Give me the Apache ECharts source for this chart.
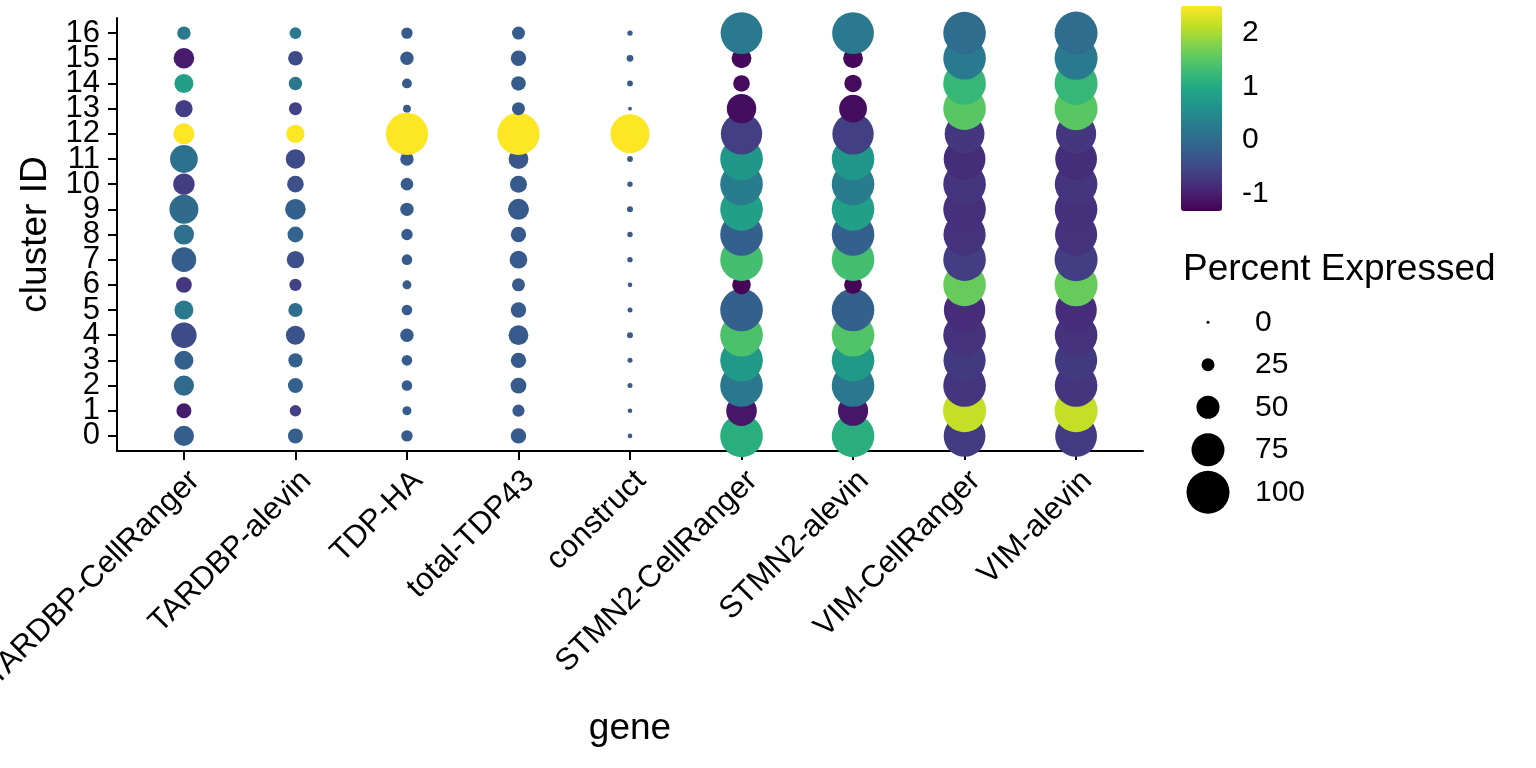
<!DOCTYPE html>
<html>
<head>
<meta charset="utf-8">
<script src="https://cdn.jsdelivr.net/npm/echarts@6/dist/echarts.min.js"></script>
<style>
html,body{margin:0;padding:0;background:#fff;}
#chart{width:1536px;height:768px;}
</style>
</head>
<body>
<div id="chart"></div>
<script>
// ---------- data ----------
const genes = ["TARDBP-CellRanger","TARDBP-alevin","TDP-HA","total-TDP43","construct",
               "STMN2-CellRanger","STMN2-alevin","VIM-CellRanger","VIM-alevin"];
const clusters = [0,1,2,3,4,5,6,7,8,9,10,11,12,13,14,15,16];

// percent expressed per cluster (0..16)
const pctTARDBPCellRanger = [43,30,43,40,56,40,32,54,43,65,46,62,45,36,40,44,26];
const pctTARDBPalevin     = [30,21,30,28,40,28,23,36,32,44,34,41,38,25,26,29,22];
const pctTDPHA            = [21,15,19,19,26,19,15,19,21,26,24,26,98,12,17,26,21];
const pctTotalTDP43       = [31,23,32,31,42,31,25,37,31,45,35,42,98,25,29,31,25];
const pctConstruct        = [4,4,5,5,7.5,5,4,6,6,7.5,6,7,90,2,7,9.5,6];
const pctSTMN2CellRanger  = [99,69,99,99,99,99,39,99,99,99,99,99,96,66,34,42,97];
const pctSTMN2alevin      = [99,68,99,99,99,99,37,99,99,99,99,99,96,62,36,42,97];
const pctVIMCellRanger    = [97,100,99,98,99,96,99,99,98,99,99,97,92,99,99,99,99];
const pctVIMalevin        = [97,100,99,98,99,96,100,100,98,99,99,97,93,100,100,100,100];

// scaled average expression per cluster (0..16)
const avgTARDBPCellRanger = [-0.2,-1.05,-0.02,-0.16,-0.46,0.22,-0.72,-0.2,0.08,0.0,-0.65,0.1,2.5,-0.65,0.83,-1.03,0.2];
const avgTARDBPalevin     = [-0.18,-0.6,-0.16,-0.16,-0.35,0.04,-0.58,-0.4,-0.1,-0.16,-0.4,-0.45,2.5,-0.58,0.2,-0.45,0.22];
const avgTDPHA            = [-0.24,-0.24,-0.24,-0.24,-0.24,-0.24,-0.24,-0.24,-0.24,-0.24,-0.24,-0.24,2.5,-0.24,-0.24,-0.24,-0.24];
const avgTotalTDP43       = [-0.25,-0.27,-0.25,-0.25,-0.27,-0.25,-0.27,-0.25,-0.25,-0.25,-0.25,-0.3,2.5,-0.26,-0.22,-0.25,-0.2];
const avgConstruct        = [-0.24,-0.24,-0.24,-0.24,-0.24,-0.24,-0.24,-0.24,-0.24,-0.24,-0.24,-0.24,2.5,-0.24,-0.24,-0.24,-0.24];
const avgSTMN2CellRanger  = [1.06,-1.1,0.18,0.71,1.4,-0.16,-1.28,1.36,-0.16,0.83,0.26,0.68,-0.62,-1.2,-1.22,-1.25,0.22];
const avgSTMN2alevin      = [1.06,-1.1,0.18,0.71,1.45,-0.16,-1.28,1.35,-0.16,0.83,0.26,0.66,-0.62,-1.2,-1.22,-1.25,0.22];
const avgVIMCellRanger    = [-0.67,2.16,-0.76,-0.7,-0.78,-0.85,1.6,-0.65,-0.78,-0.82,-0.76,-0.84,-0.73,1.5,1.21,0.24,0.03];
const avgVIMalevin        = [-0.67,2.16,-0.76,-0.7,-0.78,-0.85,1.6,-0.65,-0.78,-0.8,-0.76,-0.84,-0.73,1.5,1.21,0.24,0.03];

const colorTicks = [-1,0,1,2];
const sizeBreaks = [0,25,50,75,100];
const colorMin = -1.33, colorMax = 2.5;
const viridis = ["#440154","#482475","#414487","#355f8d","#2a788e","#21918c",
                 "#22a884","#44bf70","#7ad151","#bddf26","#fde725"];

// ---------- build ----------
const pctList = [pctTARDBPCellRanger,pctTARDBPalevin,pctTDPHA,pctTotalTDP43,pctConstruct,
                 pctSTMN2CellRanger,pctSTMN2alevin,pctVIMCellRanger,pctVIMalevin];
const avgList = [avgTARDBPCellRanger,avgTARDBPalevin,avgTDPHA,avgTotalTDP43,avgConstruct,
                 avgSTMN2CellRanger,avgSTMN2alevin,avgVIMCellRanger,avgVIMalevin];

const dots = [];
clusters.forEach((c, ci) => {
  genes.forEach((g, gi) => {
    dots.push([gi + 1, c, pctList[gi][ci], avgList[gi][ci]]);
  });
});

const FONT = "'Liberation Sans', Arial, Helvetica, sans-serif";
const TICK_FS = 31, TITLE_FS = 37;
const geneTicks = genes.map((g, i) => i + 1);
const evenClusters = clusters.filter(c => c % 2 === 0);
const oddClusters = clusters.filter(c => c % 2 === 1);

const yLabelStyle = {margin: 17, fontSize: TICK_FS, color: '#000', fontFamily: FONT,
                     showMinLabel: true, showMaxLabel: true, hideOverlap: false};

const chart = echarts.init(document.getElementById('chart'), null, {renderer: 'canvas'});
chart.setOption({
  backgroundColor: '#ffffff',
  animation: false,
  textStyle: {fontFamily: FONT, color: '#000'},
  grid: [
    {left: 117, top: 18, width: 1026, height: 433, outerBoundsMode: 'none', containLabel: false},
    {left: 1181, top: 6, width: 41, height: 205, outerBoundsMode: 'none', containLabel: false},
    {left: 1186, top: 301, width: 44, height: 212.5, outerBoundsMode: 'none', containLabel: false}
  ],
  xAxis: [
    {
      type: 'value', gridIndex: 0, min: 0.4, max: 9.6,
      axisLine: {show: true, onZero: false, lineStyle: {color: '#000', width: 2}},
      axisTick: {show: true, length: 9, lineStyle: {color: '#000', width: 2}, customValues: geneTicks},
      axisLabel: {
        customValues: geneTicks, rotate: 45, margin: 14, fontSize: TICK_FS, color: '#000', fontFamily: FONT,
        align: 'right', verticalAlign: 'top', showMinLabel: true, showMaxLabel: true, hideOverlap: false,
        formatter: v => genes[Math.round(v) - 1] || ''
      },
      splitLine: {show: false},
      name: 'gene', nameLocation: 'middle', nameGap: 259,
      nameTextStyle: {fontSize: TITLE_FS, color: '#000', fontFamily: FONT}
    },
    {type: 'value', gridIndex: 1, min: 0, max: 1, show: false},
    {type: 'value', gridIndex: 2, min: 0, max: 2, show: false}
  ],
  yAxis: [
    {
      type: 'value', gridIndex: 0, min: -0.6, max: 16.6,
      axisLine: {show: true, onZero: false, lineStyle: {color: '#000', width: 2}},
      axisTick: {show: true, length: 9, lineStyle: {color: '#000', width: 2}, customValues: clusters},
      axisLabel: Object.assign({customValues: evenClusters}, yLabelStyle),
      splitLine: {show: false},
      name: 'cluster ID', nameLocation: 'middle', nameGap: 62, nameRotate: 90,
      nameTextStyle: {fontSize: TITLE_FS, color: '#000', fontFamily: FONT}
    },
    {
      type: 'value', gridIndex: 1, position: 'left', min: colorMin, max: colorMax,
      axisLine: {show: false},
      axisTick: {show: true, inside: true, length: 8, lineStyle: {color: '#fff', width: 1.5}, customValues: colorTicks},
      axisLabel: {show: false},
      splitLine: {show: false}
    },
    {
      type: 'value', gridIndex: 1, position: 'right', min: colorMin, max: colorMax,
      axisLine: {show: false},
      axisTick: {show: true, inside: true, length: 8, lineStyle: {color: '#fff', width: 1.5}, customValues: colorTicks},
      axisLabel: {customValues: colorTicks, margin: 20, fontSize: 30, color: '#000', fontFamily: FONT,
                  showMinLabel: true, showMaxLabel: true},
      splitLine: {show: false}
    },
    {
      type: 'category', gridIndex: 2, position: 'right', inverse: true,
      data: sizeBreaks.map(String),
      axisLine: {show: false}, axisTick: {show: false},
      axisLabel: {margin: 25, fontSize: 30, color: '#000', fontFamily: FONT, interval: 0},
      splitLine: {show: false}
    },
    {
      type: 'value', gridIndex: 0, position: 'left', min: -0.6, max: 16.6,
      axisLine: {show: false}, axisTick: {show: false},
      axisLabel: Object.assign({customValues: oddClusters}, yLabelStyle),
      splitLine: {show: false}
    }
  ],
  visualMap: [
    {
      type: 'continuous', seriesIndex: 0, dimension: 3,
      min: colorMin, max: colorMax, calculable: false, hoverLink: false,
      left: 1181, top: 6, itemWidth: 41, itemHeight: 205, padding: 0,
      text: null, showLabel: false,
      inRange: {color: viridis}
    },
    {
      type: 'continuous', show: false, seriesIndex: [0, 1], dimension: 2,
      min: 0, max: 100,
      inRange: {symbolSize: [3, 43]}
    }
  ],
  graphic: [
    {type: 'text', left: 1183, top: 251, z: 10,
     style: {text: 'Percent Expressed', font: TITLE_FS + 'px ' + FONT, fill: '#000'}}
  ],
  series: [
    {
      type: 'scatter', xAxisIndex: 0, yAxisIndex: 0, symbol: 'circle',
      data: dots, clip: false, silent: true, itemStyle: {opacity: 1}
    },
    {
      type: 'scatter', xAxisIndex: 2, yAxisIndex: 3, symbol: 'circle',
      data: sizeBreaks.map((b, i) => [1, i, b]), itemStyle: {color: '#000', opacity: 1}, silent: true
    }
  ]
});
</script>
</body>
</html>
